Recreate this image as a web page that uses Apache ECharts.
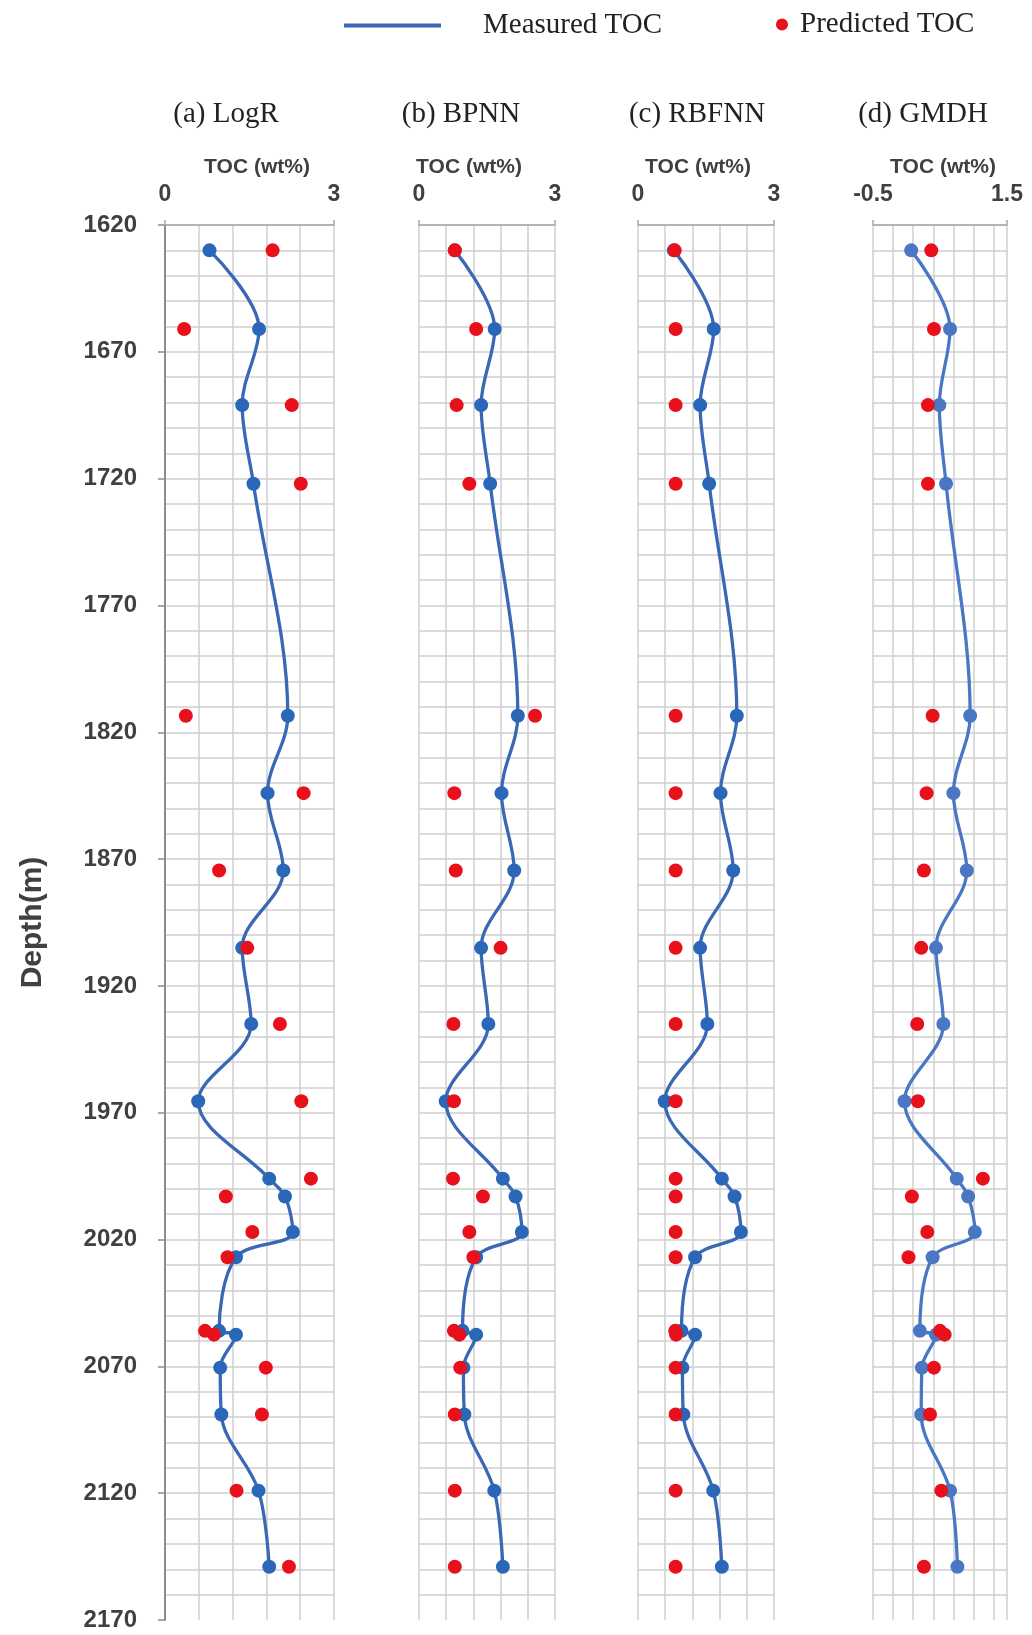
<!DOCTYPE html>
<html><head><meta charset="utf-8">
<script src="https://cdn.jsdelivr.net/npm/echarts@6/dist/echarts.min.js"></script>
<style>html,body{margin:0;padding:0;background:#fff}#c{width:1032px;height:1635px}</style>
</head><body><div id="c"></div>
<script>
// ---- data ----
const depths = [1630, 1661, 1691, 1722, 1813.5, 1844, 1874.5, 1905, 1935, 1965.5, 1996, 2003, 2017, 2027, 2056, 2057.5, 2070.5, 2089, 2119, 2149];
const measuredTOC = [0.79, 1.67, 1.37, 1.57, 2.18, 1.82, 2.10, 1.37, 1.53, 0.59, 1.85, 2.13, 2.27, 1.26, 0.96, 1.26, 0.98, 1.00, 1.66, 1.85];
const predLogR  = [1.91, 0.34, 2.25, 2.41, 0.37, 2.46, 0.96, 1.46, 2.04, 2.42, 2.59, 1.08, 1.55, 1.11, 0.71, 0.87, 1.79, 1.72, 1.27, 2.20];
const predBPNN  = [0.79, 1.26, 0.83, 1.11, 2.56, 0.78, 0.81, 1.80, 0.76, 0.77, 0.75, 1.41, 1.11, 1.20, 0.77, 0.89, 0.91, 0.79, 0.79, 0.79];
const predRBFNN = [0.81, 0.83, 0.83, 0.83, 0.83, 0.83, 0.83, 0.83, 0.83, 0.83, 0.83, 0.83, 0.83, 0.83, 0.82, 0.84, 0.83, 0.83, 0.83, 0.83];
const measuredGMDH = [0.07, 0.65, 0.49, 0.59, 0.95, 0.70, 0.90, 0.44, 0.55, -0.03, 0.75, 0.92, 1.02, 0.39, 0.20, 0.44, 0.23, 0.22, 0.65, 0.76];
const predGMDH  = [0.37, 0.41, 0.32, 0.32, 0.39, 0.30, 0.26, 0.22, 0.16, 0.17, 1.14, 0.08, 0.31, 0.03, 0.50, 0.57, 0.41, 0.35, 0.52, 0.26];

const panelTitles = ['(a) LogR', '(b) BPNN', '(c) RBFNN', '(d) GMDH'];
const xName = 'TOC (wt%)';
const xMin = [0, 0, 0, -0.5];
const xMax = [3, 3, 3, 1.5];
const xGridStep = [0.6, 0.6, 0.6, 0.3];
const depthMin = 1620, depthMax = 2170, depthStep = 50;
const legendNames = ['Measured TOC', 'Predicted TOC'];

const measuredSets = [measuredTOC, measuredTOC, measuredTOC, measuredGMDH];
const predictedSets = [predLogR, predBPNN, predRBFNN, predGMDH];

// ---- layout / style ----
const gridLeft = [165, 419, 638, 873];
const gridWidth = [169, 136, 136, 134];
const titleX = [226, 461, 697, 923];
const xNameX = [257, 469, 698, 943];
const gridColor = '#cfcfcf';
const textColor = '#404040';
const lineBlue = ['#3a68b4', '#3a68b4', '#3a68b4', '#4a77c4'];
const dotBlue = ['#2a67b8', '#2a67b8', '#2a67b8', '#4a77c4'];
const red = '#e8101a';

const nSplit = Math.round((depthMax - depthMin) / depthStep) + 1;
const splitColors = [];
for (let k = 0; k < nSplit; k++) splitColors.push(k === nSplit - 1 ? 'rgba(0,0,0,0)' : gridColor);

const grids = [], xAxes = [], yAxes = [], series = [], graphics = [];
for (let i = 0; i < 4; i++) {
  grids.push({ left: gridLeft[i], width: gridWidth[i], top: 225, bottom: 15 });
  xAxes.push({
    gridIndex: i, type: 'value', position: 'top', min: xMin[i], max: xMax[i],
    interval: xMax[i] - xMin[i],
    axisLine: { show: true, lineStyle: { color: '#a8a8a8', width: 1.5 } },
    axisTick: { show: true, length: 5, lineStyle: { color: '#a8a8a8', width: 1.5 } },
    axisLabel: { fontSize: 23, fontWeight: 'bold', color: textColor, fontFamily: 'Liberation Sans', margin: 19 },
    splitLine: { show: false }
  });
  yAxes.push({
    gridIndex: i, type: 'value', inverse: true, min: depthMin, max: depthMax, interval: depthStep,
    name: i === 0 ? 'Depth(m)' : '', nameLocation: 'middle', nameGap: 117, nameRotate: 90,
    nameTextStyle: { fontSize: 30, fontWeight: 'bold', color: textColor, fontFamily: 'Liberation Sans' },
    axisLine: { show: i === 0, lineStyle: { color: '#8c8c8c', width: 2 } },
    axisTick: { show: i === 0, length: 7, lineStyle: { color: '#8c8c8c', width: 1.5 } },
    axisLabel: { show: i === 0, fontSize: 24, fontWeight: 'bold', color: textColor, fontFamily: 'Liberation Sans', margin: 28,
      formatter: v => String(v) },
    splitLine: { show: true, lineStyle: { color: splitColors, width: 1.5 } },
    minorTick: { show: false, splitNumber: 5 },
    minorSplitLine: { show: true, lineStyle: { color: gridColor, width: 1.5 } }
  });
}
for (let i = 0; i < 4; i++) {
  xAxes.push({
    gridIndex: i, type: 'value', position: 'bottom', min: xMin[i], max: xMax[i], interval: xGridStep[i],
    axisLine: { show: false }, axisTick: { show: false }, axisLabel: { show: false },
    splitLine: { show: true, lineStyle: { color: gridColor, width: 1.5 } }
  });
}
for (let i = 0; i < 4; i++) {
  series.push({
    name: legendNames[0], type: 'line', xAxisIndex: i, yAxisIndex: i,
    data: depths.map((d, k) => [measuredSets[i][k], d]),
    smooth: 0.35, symbol: 'circle', symbolSize: 14, showAllSymbol: true,
    lineStyle: { color: lineBlue[i], width: 3.3 },
    itemStyle: { color: dotBlue[i], opacity: 1 }, z: 3
  });
  series.push({
    name: legendNames[1], type: 'scatter', xAxisIndex: i, yAxisIndex: i,
    data: depths.map((d, k) => [predictedSets[i][k], d]),
    symbol: 'circle', symbolSize: 14, itemStyle: { color: red, opacity: 1 }, z: 4
  });
  graphics.push({
    type: 'text', x: titleX[i], y: 114,
    style: { text: panelTitles[i], fontSize: 29, fontFamily: 'Liberation Serif', fill: '#222', textAlign: 'center', textVerticalAlign: 'middle' }
  });
  graphics.push({
    type: 'text', x: xNameX[i], y: 167,
    style: { text: xName, fontSize: 21, fontWeight: 'bold', fontFamily: 'Liberation Sans', fill: textColor, textAlign: 'center', textVerticalAlign: 'middle' }
  });
}

const chart = echarts.init(document.getElementById('c'), null, { renderer: 'canvas' });
chart.setOption({
  animation: false,
  backgroundColor: '#fff',
  grid: grids, xAxis: xAxes, yAxis: yAxes, series: series, graphic: graphics,
  legend: [
    {
      data: [{ name: legendNames[0], icon: 'rect', itemStyle: { color: '#3a68b4' } }],
      left: 344, top: 11, padding: 0, itemWidth: 97, itemHeight: 4,
      textStyle: { fontSize: 29, fontFamily: 'Liberation Serif', color: '#222', padding: [0, 0, 0, 37] },
      selectedMode: false
    },
    {
      data: [{ name: legendNames[1], icon: 'circle', itemStyle: { color: red } }],
      left: 776, top: 10, padding: 0, itemWidth: 12, itemHeight: 12,
      textStyle: { fontSize: 29, fontFamily: 'Liberation Serif', color: '#222', padding: [0, 0, 0, 7] },
      selectedMode: false
    }
  ]
});
</script></body></html>
